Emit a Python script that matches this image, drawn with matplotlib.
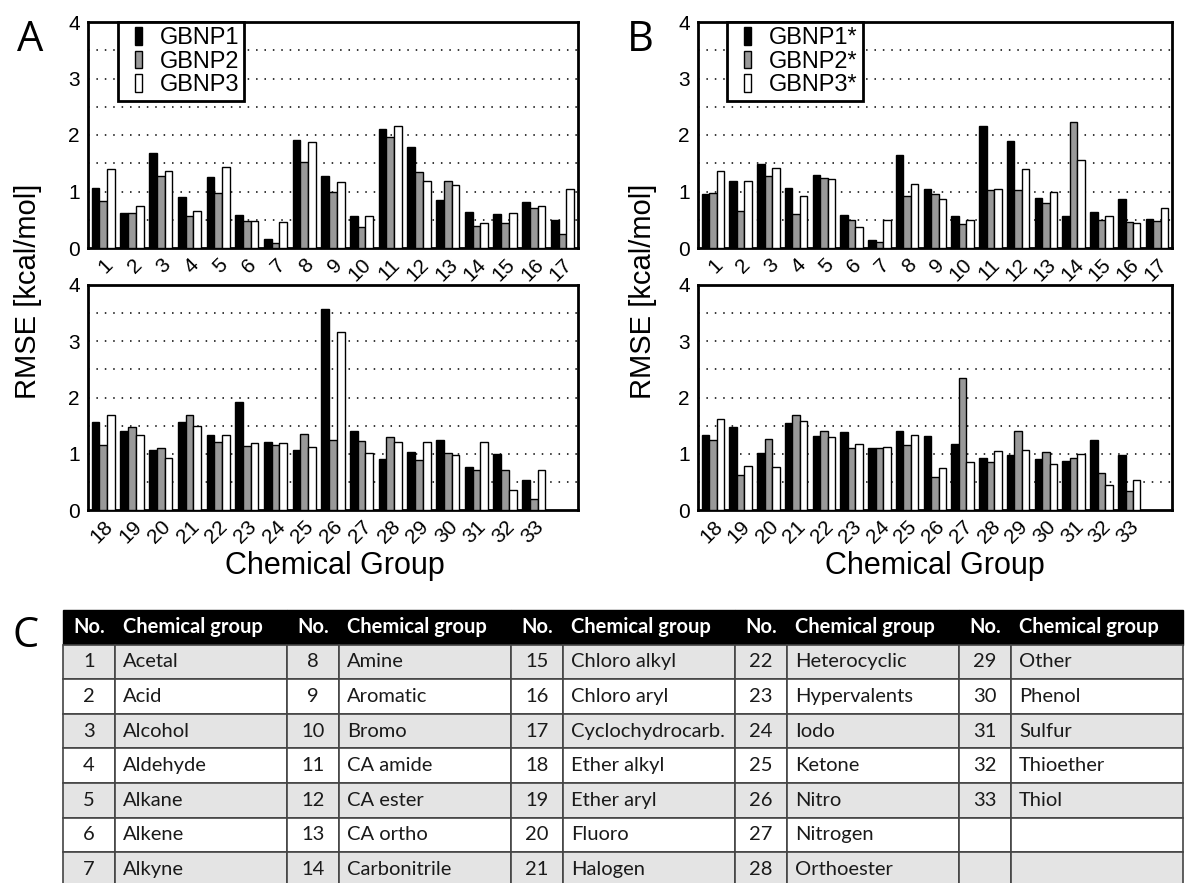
import numpy as np
import matplotlib
matplotlib.use('Agg')
import matplotlib.pyplot as plt
from matplotlib.patches import Rectangle
from matplotlib.legend_handler import HandlerPatch
from matplotlib.transforms import ScaledTranslation

plt.rcParams['font.family'] = ['Liberation Sans', 'DejaVu Sans']

# ── Data ──────────────────────────────────────────────────────────────────────
groups_top = list(range(1, 18))
groups_bot = list(range(18, 34))

# panel A: GBNP1 / GBNP2 / GBNP3
a1_top = [1.07, 0.62, 1.68, 0.91, 1.26, 0.58, 0.16, 1.91, 1.28, 0.57, 2.11, 1.78, 0.85, 0.64, 0.60, 0.82, 0.49]
a2_top = [0.84, 0.62, 1.28, 0.57, 0.97, 0.47, 0.08, 1.52, 0.99, 0.37, 1.96, 1.34, 1.18, 0.39, 0.44, 0.71, 0.25]
a3_top = [1.39, 0.75, 1.36, 0.66, 1.43, 0.47, 0.46, 1.87, 1.17, 0.56, 2.16, 1.19, 1.11, 0.44, 0.62, 0.74, 1.05]
a1_bot = [1.56, 1.40, 1.07, 1.57, 1.33, 1.92, 1.21, 1.07, 3.58, 1.40, 0.91, 1.03, 1.25, 0.76, 1.00, 0.53]
a2_bot = [1.15, 1.48, 1.10, 1.69, 1.21, 1.14, 1.15, 1.35, 1.24, 1.23, 1.29, 0.89, 1.02, 0.71, 0.72, 0.20]
a3_bot = [1.69, 1.34, 0.92, 1.50, 1.34, 1.20, 1.19, 1.12, 3.17, 1.01, 1.21, 1.21, 0.97, 1.21, 0.36, 0.72]

# panel B: GBNP1* / GBNP2* / GBNP3*
b1_top = [0.95, 1.18, 1.48, 1.06, 1.30, 0.59, 0.15, 1.64, 1.04, 0.56, 2.16, 1.89, 0.88, 0.57, 0.63, 0.87, 0.52]
b2_top = [0.97, 0.66, 1.28, 0.60, 1.24, 0.50, 0.11, 0.92, 0.96, 0.42, 1.03, 1.02, 0.80, 2.23, 0.50, 0.46, 0.47]
b3_top = [1.36, 1.19, 1.42, 0.92, 1.22, 0.37, 0.49, 1.14, 0.86, 0.50, 1.05, 1.39, 0.99, 1.56, 0.56, 0.44, 0.70]
b1_bot = [1.34, 1.48, 1.01, 1.54, 1.31, 1.38, 1.11, 1.40, 1.32, 1.17, 0.93, 0.98, 0.91, 0.88, 1.25, 0.98]
b2_bot = [1.24, 0.62, 1.26, 1.69, 1.40, 1.11, 1.11, 1.16, 0.58, 2.34, 0.86, 1.41, 1.03, 0.92, 0.65, 0.34]
b3_bot = [1.62, 0.79, 0.76, 1.59, 1.30, 1.17, 1.12, 1.33, 0.74, 0.86, 1.05, 1.07, 0.81, 0.99, 0.45, 0.53]

labels_a = ['GBNP1', 'GBNP2', 'GBNP3']
labels_b = ['GBNP1*', 'GBNP2*', 'GBNP3*']

table_nums = list(range(1, 34))
table_names = ['Acetal', 'Acid', 'Alcohol', 'Aldehyde', 'Alkane', 'Alkene', 'Alkyne',
               'Amine', 'Aromatic', 'Bromo', 'CA amide', 'CA ester', 'CA ortho', 'Carbonitrile',
               'Chloro alkyl', 'Chloro aryl', 'Cyclochydrocarb.', 'Ether alkyl', 'Ether aryl', 'Fluoro', 'Halogen',
               'Heterocyclic', 'Hypervalents', 'Iodo', 'Ketone', 'Nitro', 'Nitrogen', 'Orthoester',
               'Other', 'Phenol', 'Sulfur', 'Thioether', 'Thiol']

# ── Figure ────────────────────────────────────────────────────────────────────
W, H = 1190, 883
fig = plt.figure(figsize=(W / 100, H / 100), dpi=100)

COLORS = ['black', '#999999', 'white']
BW = 0.27


def px_axes(left, top, right, bottom):
    return fig.add_axes([left / W, 1 - bottom / H, (right - left) / W, (bottom - top) / H])


def narrow_patch(legend, orig_handle, xdescent, ydescent, width, height, fontsize):
    w, h = 0.3 * fontsize, 0.74 * fontsize
    return Rectangle((-xdescent + (width - w) / 2, -ydescent + (height - h) / 2), w, h)


def bar_panel(ax, groups, series, labels=None):
    x = np.arange(len(groups))
    bars = []
    for k, vals in enumerate(series):
        bars.append(ax.bar(x + (k - 1) * BW, vals, BW, color=COLORS[k], edgecolor='black',
                           linewidth=1.0, zorder=3, label=labels[k] if labels else None))
    ax.set_xlim(-0.535, 16.54)
    ax.set_ylim(0, 4)
    ax.set_yticks([0, 1, 2, 3, 4])
    for y in [0.5, 1, 1.5, 2, 2.5, 3, 3.5]:
        ax.axhline(y, color='black', linestyle=(0, (1, 4.5)), linewidth=1.1, zorder=1)
    ax.set_xticks(x)
    ax.set_xticklabels([str(g) for g in groups], rotation=45, ha='right',
                       va='top', rotation_mode='anchor')
    off = ScaledTranslation(7 / 72, 0, fig.dpi_scale_trans)
    for t in ax.get_xticklabels():
        t.set_transform(t.get_transform() + off)
    ax.tick_params(axis='x', length=0, pad=5, labelsize=15)
    ax.tick_params(axis='y', length=0, pad=6, labelsize=15)
    for s in ax.spines.values():
        s.set_linewidth(2)
    if labels:
        handles = [b.patches[0] for b in bars]
        leg = ax.legend(handles, labels, loc='upper left', bbox_to_anchor=(0.062, 1.0),
                        borderaxespad=0, fancybox=False, edgecolor='black', framealpha=1,
                        fontsize=17, handlelength=1.23, handleheight=0.74, handletextpad=0.3,
                        labelspacing=0.06, borderpad=0.22,
                        handler_map={Rectangle: HandlerPatch(patch_func=narrow_patch)})
        leg.get_frame().set_linewidth(2)
        leg.set_zorder(5)


axA1 = px_axes(88, 22, 578, 248)
axA2 = px_axes(88, 285, 578, 510)
axB1 = px_axes(698, 22, 1172, 248)
axB2 = px_axes(698, 285, 1172, 510)

bar_panel(axA1, groups_top, [a1_top, a2_top, a3_top], labels_a)
bar_panel(axA2, groups_bot, [a1_bot, a2_bot, a3_bot])
bar_panel(axB1, groups_top, [b1_top, b2_top, b3_top], labels_b)
bar_panel(axB2, groups_bot, [b1_bot, b2_bot, b3_bot])

for xc in [28, 643]:
    fig.text(xc / W, 1 - 291 / H, 'RMSE [kcal/mol]', rotation=90, ha='center', va='center', fontsize=21)
for xc in [335, 935]:
    fig.text(xc / W, 1 - 566 / H, 'Chemical Group', ha='center', va='center', fontsize=22)

for lab, xc, yc in [('A', 30, 40), ('B', 640, 40), ('C', 26, 636)]:
    fig.text(xc / W, 1 - yc / H, lab, ha='center', va='center', fontsize=30, family='Open Sans')

# ── Table C ───────────────────────────────────────────────────────────────────
axT = fig.add_axes([0, 0, 1, 1])
axT.set_xlim(0, W)
axT.set_ylim(H, 0)
axT.axis('off')

T_LEFT, T_TOP = 63, 610
NO_W, NAME_W = 52, 172
ROW_H = 34.6
N_ROWS = 7
tfont = dict(family='Lato', fontsize=14.5)

for c in range(5):
    x0 = T_LEFT + c * (NO_W + NAME_W)
    axT.add_patch(Rectangle((x0, T_TOP), NO_W + NAME_W, ROW_H, facecolor='black', edgecolor='black'))
    axT.text(x0 + NO_W / 2, T_TOP + ROW_H / 2, 'No.', color='white', ha='center', va='center',
             fontweight='bold', **tfont)
    axT.text(x0 + NO_W + 8, T_TOP + ROW_H / 2, 'Chemical group', color='white', ha='left',
             va='center', fontweight='bold', **tfont)
    for r in range(N_ROWS):
        y0 = T_TOP + (r + 1) * ROW_H
        fc = '#e4e4e4' if r % 2 == 0 else 'white'
        for xx, ww in [(x0, NO_W), (x0 + NO_W, NAME_W)]:
            axT.add_patch(Rectangle((xx, y0), ww, ROW_H, facecolor=fc, edgecolor='#444444',
                                    linewidth=1.2))
        idx = c * N_ROWS + r
        if idx < len(table_nums):
            axT.text(x0 + NO_W / 2, y0 + ROW_H / 2, str(table_nums[idx]), ha='center',
                     va='center', color='#1a1a1a', **tfont)
            axT.text(x0 + NO_W + 8, y0 + ROW_H / 2, table_names[idx], ha='left',
                     va='center', color='#1a1a1a', **tfont)

fig.savefig('out.png', dpi=100)
